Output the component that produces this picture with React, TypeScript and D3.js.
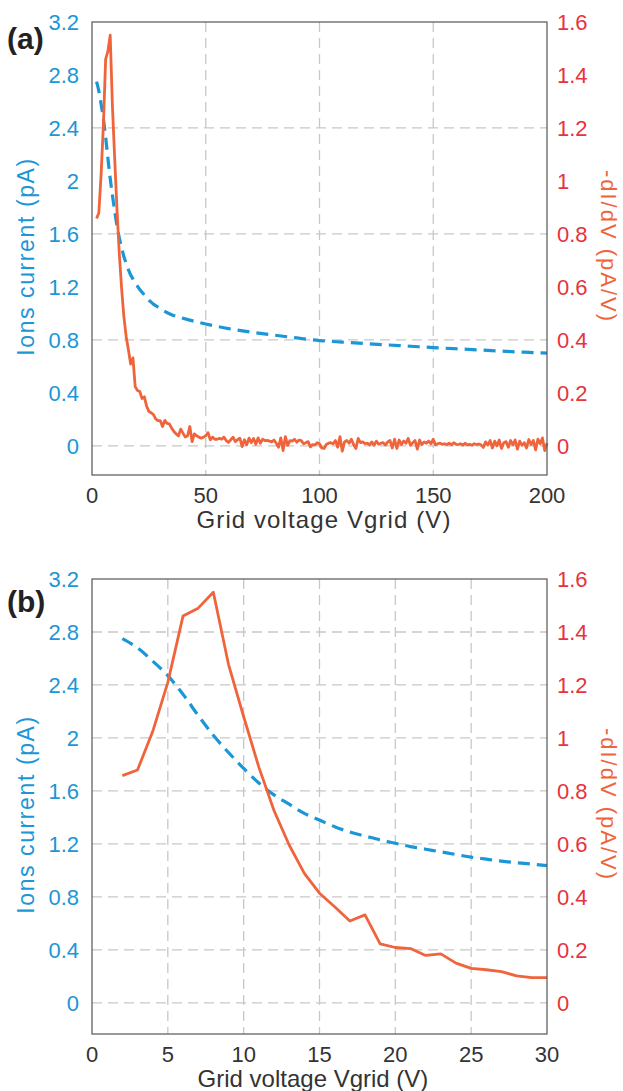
import React from "react";
import * as d3 from "d3";

// 1 V steps, 2..30 V (shared by both panels)
const voltsFine = [2, 3, 4, 5, 6, 7, 8, 9, 10, 11, 12, 13, 14, 15, 16, 17, 18, 19, 20, 21, 22, 23, 24, 25, 26, 27, 28, 29, 30];
const ionsFine = [2.75, 2.68, 2.58, 2.47, 2.33, 2.17, 2.02, 1.89, 1.77, 1.66, 1.57, 1.5, 1.43, 1.38, 1.33, 1.29, 1.26, 1.23, 1.205, 1.18, 1.16, 1.14, 1.12, 1.1, 1.085, 1.07, 1.058, 1.048, 1.036];
const dIdVFine = [0.858, 0.879, 1.024, 1.21, 1.46, 1.49, 1.55, 1.278, 1.08, 0.89, 0.726, 0.596, 0.489, 0.414, 0.363, 0.309, 0.332, 0.223, 0.209, 0.205, 0.179, 0.185, 0.15, 0.13, 0.125, 0.118, 0.102, 0.095, 0.095];

// ion current beyond 30 V (panel a)
const voltsCoarse = [35, 40, 45, 50, 60, 70, 80, 90, 100, 110, 120, 130, 140, 150, 160, 170, 180, 190, 200];
const ionsCoarse = [0.99, 0.963, 0.94, 0.92, 0.885, 0.858, 0.836, 0.815, 0.795, 0.783, 0.772, 0.762, 0.752, 0.742, 0.733, 0.724, 0.715, 0.707, 0.7];

// -dI/dV from 31 V to 200 V, 1 V steps (panel a)
const tailStart = 31;
const dIdVTail = [
  0.073, 0.096, 0.085, 0.083, 0.067, 0.054, 0.045, 0.038, 0.063, 0.048,
  0.033, 0.038, 0.073, 0.016, 0.045, 0.038, 0.033, 0.029, 0.033, 0.038,
  0.05, 0.023, 0.033, 0.025, 0.025, 0.028, 0.025, 0.033, 0.02, 0.013,
  0.023, 0.033, 0.016, 0.023, 0.029, -0.003, 0.023, 0.004, 0.029, 0.012,
  0.028, 0.006, 0.03, 0.01, 0.025, 0.02, 0.021, 0.018, 0.015, 0.022,
  0.01, -0.005, 0.03, -0.018, 0.035, 0.002, 0.02, 0.018, 0.025, 0.014,
  0.022, 0.02, 0.008, 0.012, 0.016, -0.004, 0.005, 0.003, 0.012, 0.008,
  -0.008, -0.01, 0.005, 0.01, 0.012, 0.008, 0.02, -0.005, 0.035, -0.02,
  0.015, 0.02, 0.01, 0.025, 0.005, -0.01, 0.028, 0.012, 0.015, 0.008,
  0.01, 0.004, 0.015, 0.002, 0.018, 0.006, 0.01, 0.012, 0.003, 0.015,
  0.02, -0.008, 0.025, -0.01, 0.022, 0.005, 0.018, 0.01, 0.028, 0.002,
  0.012, 0.02, -0.012, 0.022, 0.005, 0.015, 0.01, 0.018, 0.008, 0.025,
  0.004, 0.008, 0.01, 0.006, 0.008, 0.005, 0.01, 0.004, 0.012, 0.006,
  0.005, 0.008, 0.003, 0.01, 0.004, 0.006, 0.002, 0.008, 0.005, 0.007,
  0.004, -0.006, 0.015, 0.003, 0.02, -0.008, 0.018, 0.0, 0.022, -0.01,
  0.012, 0.016, -0.005, 0.02, 0.004, 0.022, -0.012, 0.018, 0.002, 0.012,
  -0.008, 0.024, 0.005, 0.02, -0.015, 0.025, 0.008, 0.03, -0.018, 0.01,
];

const leftTicks = [0, 0.4, 0.8, 1.2, 1.6, 2, 2.4, 2.8, 3.2];
const rightTicks = [0, 0.2, 0.4, 0.6, 0.8, 1, 1.2, 1.4, 1.6];
const xTicksA = [0, 50, 100, 150, 200];
const xTicksB = [0, 5, 10, 15, 20, 25, 30];
const hGridA = [0, 0.8, 1.6, 2.4];
const hGridB = [0, 0.4, 0.8, 1.2, 1.6, 2, 2.4, 2.8];

const BLUE = "#1b96d6";
const ORANGE = "#f0643c";
const RED = "#e6343c";
const FONT = "'Liberation Sans', Arial, Helvetica, sans-serif";

type Pt = [number, number];

function Panel(props: {
  label: string;
  top: number;
  bottom: number;
  xMax: number;
  yMin: number;
  xTicks: number[];
  vGrid: number[];
  hGrid: number[];
  ions: Pt[];
  didv: Pt[];
  xLabelX: number;
  xLabelSpacing: number;
  labelBaseline: number;
}) {
  const { top, bottom } = props;
  const left = 92;
  const right = 547;
  const x = d3.scaleLinear().domain([0, props.xMax]).range([left, right]);
  const yL = d3.scaleLinear().domain([props.yMin, 3.2]).range([bottom, top]);
  const yR = d3.scaleLinear().domain([props.yMin / 2, 1.6]).range([bottom, top]);

  const ionLine = d3
    .line<Pt>()
    .x((d) => x(d[0]))
    .y((d) => yL(d[1]))
    .curve(d3.curveMonotoneX);
  const didvLine = d3
    .line<Pt>()
    .x((d) => x(d[0]))
    .y((d) => yR(d[1]));

  const midY = (top + bottom) / 2;

  return (
    <g fontFamily={FONT}>
      {/* grid */}
      {props.hGrid.map((v) => (
        <line key={"h" + v} x1={left} x2={right} y1={yL(v)} y2={yL(v)} stroke="#c8c8c8" strokeWidth={1.3} strokeDasharray="10,6" />
      ))}
      {props.vGrid.map((v) => (
        <line key={"v" + v} x1={x(v)} x2={x(v)} y1={top} y2={bottom} stroke="#c8c8c8" strokeWidth={1.3} strokeDasharray="10,6" />
      ))}

      {/* data */}
      <path d={ionLine(props.ions) || ""} fill="none" stroke={BLUE} strokeWidth={3.2} strokeDasharray="12,7" />
      <path d={didvLine(props.didv) || ""} fill="none" stroke={ORANGE} strokeWidth={2.8} strokeLinejoin="round" />

      {/* frame */}
      <rect x={left} y={top} width={right - left} height={bottom - top} fill="none" stroke="#555" strokeWidth={1.2} />

      {/* left ticks */}
      {leftTicks.map((v) => (
        <text key={"l" + v} x={79} y={yL(v)} dy="0.36em" textAnchor="end" fontSize={22} fill={BLUE}>
          {String(v)}
        </text>
      ))}
      {/* right ticks */}
      {rightTicks.map((v) => (
        <text key={"r" + v} x={557} y={yR(v)} dy="0.36em" textAnchor="start" fontSize={22} fill={RED}>
          {String(v)}
        </text>
      ))}
      {/* x ticks */}
      {props.xTicks.map((v) => (
        <text key={"x" + v} x={x(v)} y={bottom + 28} textAnchor="middle" fontSize={22} fill="#333">
          {String(v)}
        </text>
      ))}

      <text x={props.xLabelX} y={bottom + 53} textAnchor="middle" fontSize={24} fill="#333" letterSpacing={props.xLabelSpacing}>
        Grid voltage Vgrid (V)
      </text>
      <text transform={`translate(34,${midY + 8}) rotate(-90)`} textAnchor="middle" fontSize={23} fill={BLUE} letterSpacing={1.6}>
        Ions current (pA)
      </text>
      <text transform={`translate(601,${midY - 2}) rotate(90)`} textAnchor="middle" fontSize={22} fill={ORANGE} letterSpacing={2}>
        -dI/dV (pA/V)
      </text>

      <text x={7} y={props.labelBaseline} fontSize={30} fontWeight="bold" fill="#222">
        {props.label}
      </text>
    </g>
  );
}

export default function App() {
  const ionsB: Pt[] = voltsFine.map((v, i) => [v, ionsFine[i]]);
  const didvB: Pt[] = voltsFine.map((v, i) => [v, dIdVFine[i]]);
  const ionsA: Pt[] = [...ionsB, ...voltsCoarse.map((v, i) => [v, ionsCoarse[i]] as Pt)];
  const didvA: Pt[] = [...didvB, ...dIdVTail.map((d, i) => [tailStart + i, d] as Pt)];

  return (
    <svg width={623} height={1091} style={{ position: "absolute", left: 0, top: 0, background: "#fff" }}>
      <Panel
        label="(a)"
        top={22}
        bottom={475}
        xMax={200}
        yMin={-0.22}
        xTicks={xTicksA}
        vGrid={[50, 100, 150]}
        hGrid={hGridA}
        ions={ionsA}
        didv={didvA}
        xLabelX={324}
        xLabelSpacing={1.1}
        labelBaseline={49}
      />
      <Panel
        label="(b)"
        top={579}
        bottom={1034}
        xMax={30}
        yMin={-0.235}
        xTicks={xTicksB}
        vGrid={[5, 10, 15, 20, 25]}
        hGrid={hGridB}
        ions={ionsB}
        didv={didvB}
        xLabelX={313}
        xLabelSpacing={0}
        labelBaseline={612}
      />
    </svg>
  );
}
